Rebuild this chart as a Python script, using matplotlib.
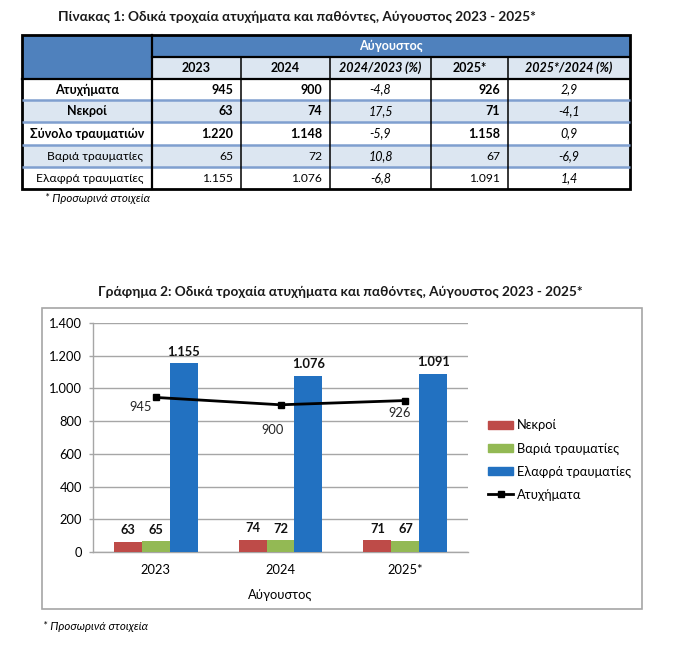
import matplotlib
matplotlib.use('Agg')
import matplotlib.pyplot as plt
from matplotlib.patches import Rectangle
from matplotlib.lines import Line2D
from matplotlib.ticker import FuncFormatter
import numpy as np

plt.rcParams['font.family'] = ['Lato', 'DejaVu Sans']

# ---------------- Table data ----------------
table_title = 'Πίνακας 1: Οδικά τροχαία ατυχήματα και παθόντες, Αύγουστος 2023 - 2025*'
header_group = 'Αύγουστος'
col_headers = ['2023', '2024', '2024/2023 (%)', '2025*', '2025*/2024 (%)']
row_labels = ['Ατυχήματα', 'Νεκροί', 'Σύνολο τραυματιών', 'Βαριά τραυματίες', 'Ελαφρά τραυματίες']
vals_2023 = ['945', '63', '1.220', '65', '1.155']
vals_2024 = ['900', '74', '1.148', '72', '1.076']
pct_24_23 = ['-4,8', '17,5', '-5,9', '10,8', '-6,8']
vals_2025 = ['926', '71', '1.158', '67', '1.091']
pct_25_24 = ['2,9', '-4,1', '0,9', '-6,9', '1,4']
footnote = '* Προσωρινά στοιχεία'

# ---------------- Chart data ----------------
chart_title = 'Γράφημα 2: Οδικά τροχαία ατυχήματα και παθόντες, Αύγουστος 2023 - 2025*'
years = ['2023', '2024', '2025*']
dead = [63, 74, 71]
serious = [65, 72, 67]
light = [1155, 1076, 1091]
accidents = [945, 900, 926]
series_names = ['Νεκροί', 'Βαριά τραυματίες', 'Ελαφρά τραυματίες', 'Ατυχήματα']
x_label = 'Αύγουστος'

# ---------------- Figure ----------------
W, H = 677, 650
fig = plt.figure(figsize=(W / 100, H / 100), dpi=100)
base = fig.add_axes([0, 0, 1, 1])
base.set_xlim(0, W)
base.set_ylim(H, 0)
base.axis('off')

DARK = '#4F81BD'
LIGHT = '#DCE6F1'
SEP = '#7F9FCF'
FS = 9.0
TITLE_FS = 9.8

# Table title
base.text(297, 17, table_title, ha='center', va='center', fontsize=TITLE_FS, fontweight='bold', color='#1a1a1a')

xe = [22, 152, 241, 330, 431, 508, 630]
ye = [35, 57, 79, 100, 122, 145, 167, 189]

# fills
base.add_patch(Rectangle((xe[0], ye[0]), xe[1] - xe[0], ye[2] - ye[0], color=DARK, lw=0))
base.add_patch(Rectangle((xe[1], ye[0]), xe[-1] - xe[1], ye[1] - ye[0], color=DARK, lw=0))
base.add_patch(Rectangle((xe[1], ye[1]), xe[-1] - xe[1], ye[2] - ye[1], color=LIGHT, lw=0))
for i in range(len(row_labels)):
    if i % 2 == 1:
        base.add_patch(Rectangle((xe[0], ye[i + 2]), xe[-1] - xe[0], ye[i + 3] - ye[i + 2], color=LIGHT, lw=0))

# row separators (blue)
for yy in ye[3:-1]:
    base.plot([xe[0], xe[-1]], [yy, yy], color=SEP, lw=1.8, solid_capstyle='butt')
# vertical lines
for xx in xe[2:-1]:
    base.plot([xx, xx], [ye[1], ye[-1]], color='black', lw=1.1)
base.plot([xe[1], xe[1]], [ye[0], ye[-1]], color='black', lw=1.6)
base.plot([xe[1], xe[-1]], [ye[1], ye[1]], color='black', lw=1.6)
base.plot([xe[0], xe[-1]], [ye[2], ye[2]], color='black', lw=1.6)
base.add_patch(Rectangle((xe[0], ye[0]), xe[-1] - xe[0], ye[-1] - ye[0], fill=False, ec='black', lw=2.0))

# header texts
base.text((xe[1] + xe[-1]) / 2, (ye[0] + ye[1]) / 2, header_group, ha='center', va='center',
          fontsize=FS, fontweight='bold', color='white')
for j, h in enumerate(col_headers):
    style = 'italic' if '%' in h else 'normal'
    base.text((xe[j + 1] + xe[j + 2]) / 2, (ye[1] + ye[2]) / 2, h, ha='center', va='center',
              fontsize=FS, fontweight='bold', style=style)

cols = [vals_2023, vals_2024, pct_24_23, vals_2025, pct_25_24]
for i, lab in enumerate(row_labels):
    yc = (ye[i + 2] + ye[i + 3]) / 2
    bold = i < 3
    if bold:
        base.text((xe[0] + xe[1]) / 2, yc, lab, ha='center', va='center', fontsize=FS, fontweight='bold')
    else:
        base.text(xe[1] - 9, yc, lab, ha='right', va='center', fontsize=FS - 0.3)
    for j, col in enumerate(cols):
        if j in (2, 4):
            base.text((xe[j + 1] + xe[j + 2]) / 2, yc, col[i], ha='center', va='center',
                      fontsize=FS, style='italic')
        else:
            base.text(xe[j + 2] - 8, yc, col[i], ha='right', va='center',
                      fontsize=FS if bold else FS - 0.3, fontweight='bold' if bold else 'normal')

base.text(45, 198, footnote, ha='left', va='center', fontsize=8.3, style='italic')

# ---------------- Chart ----------------
base.text(340, 292, chart_title, ha='center', va='center', fontsize=TITLE_FS, fontweight='bold', color='#1a1a1a')
base.add_patch(Rectangle((42, 308), 600, 301, fill=False, ec='#A6A6A6', lw=1.2))
base.text(43, 627, footnote, ha='left', va='center', fontsize=8.3, style='italic')

ax = fig.add_axes([93 / W, (H - 552) / H, 375 / W, 229 / H])
x = np.arange(len(years))
w = 0.224
RED, GREEN, BLUE = '#BE4B48', '#93B954', '#2271C1'
b1 = ax.bar(x - w, dead, w, color=RED, zorder=3)
b2 = ax.bar(x, serious, w, color=GREEN, zorder=3)
b3 = ax.bar(x + w, light, w, color=BLUE, zorder=3)
ln, = ax.plot(x, accidents, color='black', lw=2, marker='s', ms=5, zorder=4)

for bars, vals in ((b1, dead), (b2, serious), (b3, light)):
    for r, v in zip(bars, vals):
        ax.annotate(f'{v:,}'.replace(',', '.'), (r.get_x() + r.get_width() / 2, v),
                    xytext=(0, 4), textcoords='offset points', ha='center', va='bottom',
                    fontsize=9.3, fontweight='bold', color='#111111')

line_offsets = [(-11, -7), (-6, -18), (-4, -9)]
for xi, v, off in zip(x, accidents, line_offsets):
    ax.annotate(str(v), (xi, v), xytext=off, textcoords='offset points', ha='center', va='center',
                fontsize=9.3, color='#262626')

ax.set_xlim(-0.5, 2.5)
ax.set_ylim(0, 1400)
ax.set_yticks(np.arange(0, 1401, 200))
ax.yaxis.set_major_formatter(FuncFormatter(lambda v, p: f'{int(v):,}'.replace(',', '.')))
ax.set_xticks(x)
ax.set_xticklabels(years)
ax.tick_params(axis='x', length=0, pad=9, labelsize=9.3)
ax.tick_params(axis='y', length=3, width=1, color='#A6A6A6', pad=5, labelsize=9.3)
ax.grid(axis='y', color='#A6A6A6', lw=1, zorder=0)
ax.set_axisbelow(True)
for s in ('top', 'right'):
    ax.spines[s].set_visible(False)
for s in ('left', 'bottom'):
    ax.spines[s].set_color('#A6A6A6')
    ax.spines[s].set_linewidth(1)
ax.set_xlabel(x_label, fontsize=9.3, labelpad=9)

handles = [Rectangle((0, 0), 1, 1, color=RED), Rectangle((0, 0), 1, 1, color=GREEN),
           Rectangle((0, 0), 1, 1, color=BLUE),
           Line2D([], [], color='black', lw=2, marker='s', ms=4)]
fig.legend(handles, series_names, loc='center left', bbox_to_anchor=(476 / W, 1 - 460 / H),
           frameon=False, fontsize=9.3, handlelength=2.0, handleheight=0.6, handletextpad=0.3,
           labelspacing=0.85)

fig.savefig('out.png', dpi=100)
